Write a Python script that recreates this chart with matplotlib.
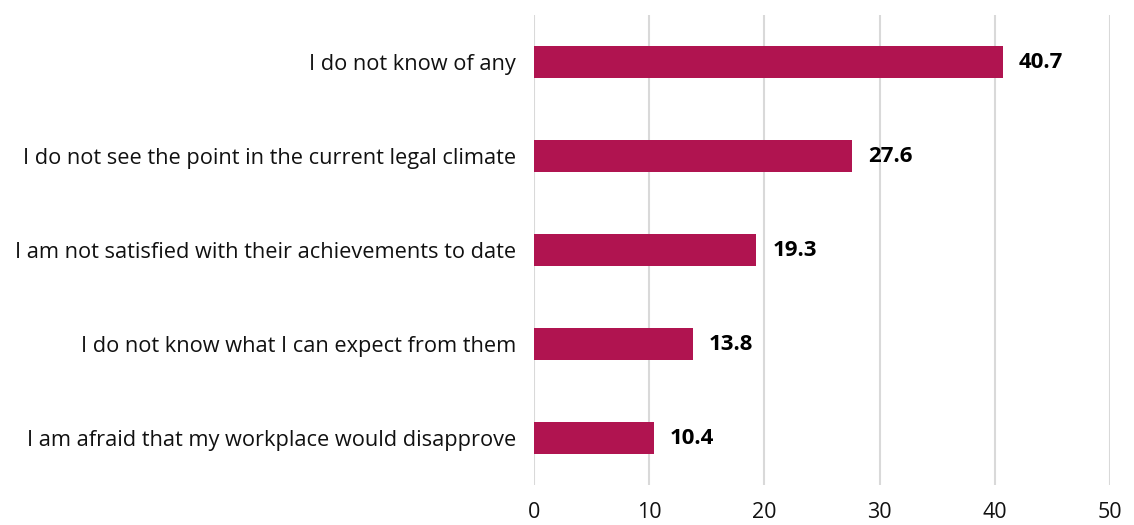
import matplotlib
matplotlib.use("Agg")
import matplotlib.pyplot as plt

categories = [
    "I do not know of any",
    "I do not see the point in the current legal climate",
    "I am not satisfied with their achievements to date",
    "I do not know what I can expect from them",
    "I am afraid that my workplace would disapprove",
]
values = [40.7, 27.6, 19.3, 13.8, 10.4]
xticks = [0, 10, 20, 30, 40, 50]

plt.rcParams['font.family'] = ['Open Sans', 'DejaVu Sans']

fig = plt.figure(figsize=(11.34, 5.25), dpi=100)
ax = fig.add_axes([534/1134, 1 - 485/525, (1110-534)/1134, (485-15)/525])

y = list(range(len(categories)))
ax.barh(y, values, height=0.35, color='#B01450', zorder=3)
for yi, v in zip(y, values):
    ax.text(v + 1.4, yi, f"{v:.1f}", va='center', ha='left', fontsize=16,
            fontweight='bold', color='black')

ax.set_xlim(0, 50)
ax.set_ylim(len(categories) - 0.5, -0.5)
ax.set_xticks(xticks)
ax.set_yticks(y)
ax.set_yticklabels(categories)
ax.tick_params(axis='y', length=0, labelsize=15.7, colors='#111111', pad=13)
ax.tick_params(axis='x', length=0, labelsize=15.5, colors='#111111', pad=12)
for s in ax.spines.values():
    s.set_visible(False)
ax.xaxis.grid(True, color='#D9D9D9', linewidth=1.5, zorder=0)
ax.set_axisbelow(True)

fig.savefig("out.png", dpi=100)
